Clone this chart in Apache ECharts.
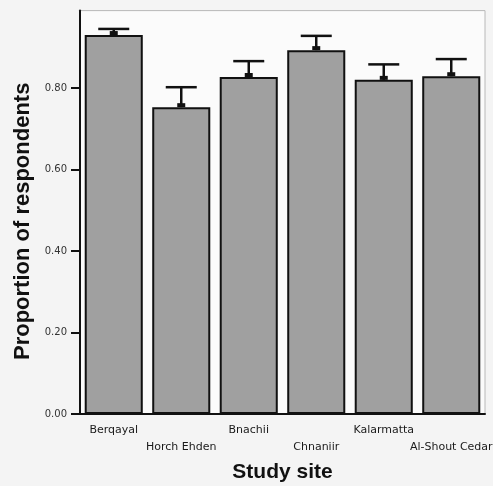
<!DOCTYPE html>
<html>
<head>
<meta charset="utf-8">
<script src="https://cdn.jsdelivr.net/npm/echarts@6/dist/echarts.min.js"></script>
<style>
html,body{margin:0;padding:0;background:#f4f4f4;}
#c{width:493px;height:486px;}
</style>
</head>
<body>
<div id="c"></div>
<script>
var categories = ['Berqayal', 'Horch Ehden', 'Bnachii', 'Chnaniir', 'Kalarmatta', 'Al-Shout Cedar'];
var meanValues = [0.930, 0.753, 0.827, 0.893, 0.820, 0.829];
var upperValues = [0.945, 0.802, 0.866, 0.928, 0.858, 0.871];
var yTickValues = [0, 0.2, 0.4, 0.6, 0.8];

var chart = echarts.init(document.getElementById('c'), null, {renderer: 'canvas'});

var errData = categories.map(function (c, i) { return [i, meanValues[i], upperValues[i]]; });

var option = {
  backgroundColor: '#f4f4f4',
  animation: false,
  grid: {
    left: 80, right: 8, top: 10.6, bottom: 72,
    containLabel: false,
    outerBoundsMode: 'none',
    show: true, backgroundColor: '#fbfbfb', borderColor: '#b8b8b8', borderWidth: 1
  },
  xAxis: {
    type: 'category',
    data: categories,
    axisLine: {lineStyle: {color: '#111', width: 2}},
    axisTick: {alignWithLabel: true, length: 6, lineStyle: {color: '#111', width: 2}},
    axisLabel: {
      interval: 0,
      margin: 8,
      fontFamily: 'DejaVu Sans',
      fontSize: 11,
      color: '#1a1a1a',
      lineHeight: 17,
      formatter: function (v, i) { return i % 2 ? '\n' + v : v; }
    },
    name: 'Study site',
    nameLocation: 'middle',
    nameGap: 48,
    nameMoveOverlap: false,
    nameTextStyle: {fontFamily: 'Liberation Sans', fontWeight: 'bold', fontSize: 21, color: '#111'}
  },
  yAxis: {
    type: 'value',
    min: 0,
    max: 0.99,
    interval: 0.2,
    splitLine: {show: false},
    axisLine: {show: true, lineStyle: {color: '#111', width: 2}},
    axisTick: {show: true, length: 9, customValues: yTickValues, lineStyle: {color: '#111', width: 2}},
    axisLabel: {
      margin: 13,
      customValues: yTickValues,
      fontFamily: 'DejaVu Sans',
      fontSize: 10,
      color: '#333',
      formatter: function (v) { return v.toFixed(2); }
    },
    name: 'Proportion of respondents',
    nameLocation: 'middle',
    nameRotate: 90,
    nameGap: 46,
    nameMoveOverlap: false,
    nameTextStyle: {fontFamily: 'Liberation Sans', fontWeight: 'bold', fontSize: 22, color: '#111', padding: [0, 18, 0, 0]}
  },
  series: [
    {
      type: 'bar',
      data: meanValues,
      barCategoryGap: '14%',
      itemStyle: {color: '#a0a0a0', borderColor: '#111', borderWidth: 2}
    },
    {
      type: 'custom',
      data: errData,
      z: 10,
      renderItem: function (params, api) {
        var i = api.value(0);
        var base = api.coord([i, api.value(1)]);
        var top = api.coord([i, api.value(2)]);
        var half = 15.5;
        var st = {stroke: '#111', lineWidth: 2.5, fill: null};
        return {
          type: 'group',
          children: [
            {type: 'line', shape: {x1: base[0], y1: base[1], x2: top[0], y2: top[1]}, style: st},
            {type: 'line', shape: {x1: top[0] - half, y1: top[1], x2: top[0] + half, y2: top[1]}, style: st},
            {type: 'rect', shape: {x: base[0] - 4, y: base[1] - 4, width: 8, height: 4}, style: {fill: '#111'}}
          ]
        };
      }
    }
  ]
};
chart.setOption(option);
</script>
</body>
</html>
